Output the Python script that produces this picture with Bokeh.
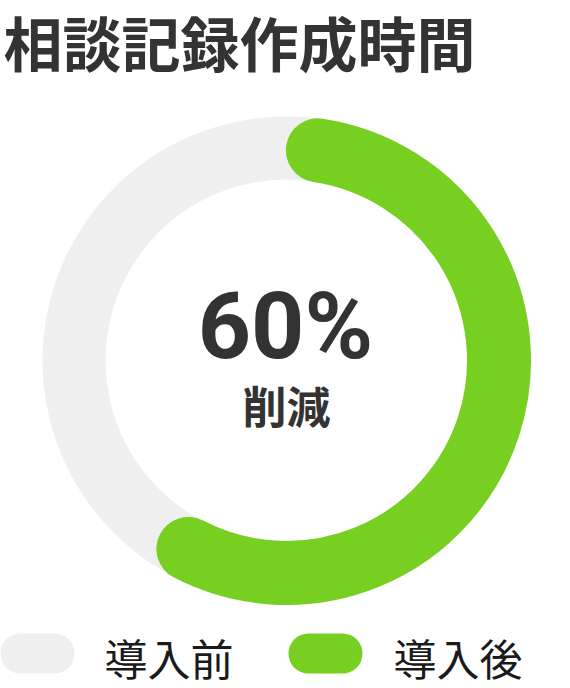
from bokeh.plotting import figure
from bokeh.models import Range1d
from bokeh.core.properties import value
from bokeh.embed import file_html
from bokeh.resources import INLINE
import math

# ---- data ----
title_text = "相談記録作成時間"
labels = ["導入前", "導入後"]
colors = ["#efefef", "#77cf22"]
reduction_pct = 60
center_value = "60%"
center_label = "削減"

W, H = 570, 688
FONT = "Noto Sans CJK JP"
TXT = "#333333"

p = figure(width=W, height=H, output_backend="svg", toolbar_location=None,
           x_range=Range1d(0, W), y_range=Range1d(0, H),
           min_border=0, outline_line_color=None, background_fill_color="white")
p.axis.visible = False
p.grid.visible = False

def px(x):  # page x -> data x
    return x
def py(y):  # page y -> data y
    return H - y

cx, cy = px(286), py(360)
r_in, r_out = 181, 244
r_mid = (r_in + r_out) / 2
thick = r_out - r_in

# background ring (導入前)
p.annulus(x=[cx], y=[cy], inner_radius=r_in, outer_radius=r_out,
          fill_color=colors[0], line_color=None)

# green arc (導入後) with rounded ends inside the segment
cap = math.degrees((thick / 2) / r_mid)
start = 90 - cap
end = 90 - reduction_pct / 100 * 360 + cap
p.arc(x=[cx], y=[cy], radius=r_mid, start_angle=start, end_angle=end,
      start_angle_units="deg", end_angle_units="deg", direction="clock",
      line_color=colors[1], line_width=thick + 1, line_cap="round")

# title
p.text(x=[px(3)], y=[py(41)], text=[title_text], text_font=value(FONT),
       text_font_style="bold", text_font_size="59px", text_color=TXT,
       text_baseline="middle", text_align="left")

# center texts
p.text(x=[px(285)], y=[py(326)], text=[center_value], text_font=value("Roboto"),
       text_font_style="bold", text_font_size="93px", text_color=TXT,
       text_baseline="middle", text_align="center")
p.text(x=[px(286)], y=[py(404)], text=[center_label], text_font=value(FONT),
       text_font_style="bold", text_font_size="44px", text_color=TXT,
       text_baseline="middle", text_align="center")

# legend
pill_x = [px(0), px(288)]
text_x = [px(104), px(393)]
pill_w, pill_h = 74, 40
ly = py(653)
for i in range(2):
    p.segment(x0=[pill_x[i] + pill_h / 2], y0=[ly], x1=[pill_x[i] + pill_w - pill_h / 2], y1=[ly],
              line_color=colors[i], line_width=pill_h, line_cap="round")
    p.text(x=[text_x[i]], y=[ly - 3], text=[labels[i]], text_font=value(FONT),
           text_font_size="43px", text_color="#1a1a1a",
           text_baseline="middle", text_align="left")

open("out.html", "w").write(file_html(p, INLINE))
